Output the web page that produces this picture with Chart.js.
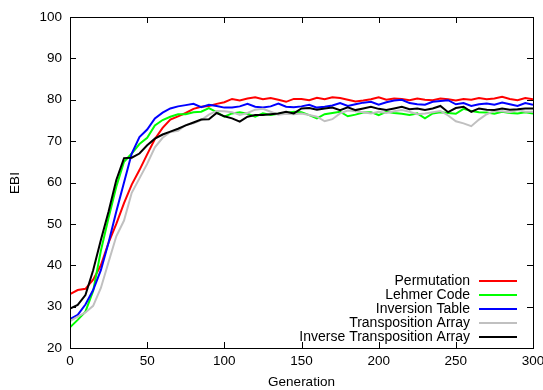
<!DOCTYPE html>
<html>
<head>
<meta charset="utf-8">
<script src="https://cdn.jsdelivr.net/npm/chart.js@4/dist/chart.umd.min.js"></script>
<style>
  html, body { margin: 0; padding: 0; background: #fff; }
  canvas { display: block; }
</style>
</head>
<body>
<canvas id="ebiChart" width="543" height="390"></canvas>
<script>
// generations sampled every 5
const generations = [];
for (let g = 0; g <= 300; g += 5) generations.push(g);

const seriesNames = ['Permutation', 'Lehmer Code', 'Inversion Table', 'Transposition Array', 'Inverse Transposition Array'];
const seriesColors = ['#ff0000', '#00ff00', '#0000ff', '#c0c0c0', '#000000'];

const permutation = [
  33.0, 34.0, 34.3, 36.5, 40.0, 45.5, 50.0, 55.0, 59.5, 63.0,
  66.8, 70.5, 73.2, 75.2, 76.0, 76.8, 77.8, 78.3, 78.5, 79.0,
  79.4, 80.2, 79.8, 80.3, 80.6, 80.1, 80.4, 80.0, 79.5, 80.2,
  80.2, 79.9, 80.5, 80.1, 80.6, 80.4, 80.0, 79.6, 79.8, 80.1,
  80.6, 80.0, 80.3, 80.2, 79.9, 80.3, 80.0, 79.9, 80.3, 80.1,
  79.8, 80.2, 80.0, 80.4, 80.1, 80.3, 80.7, 80.2, 79.9, 80.4, 80.1
];
const lehmerCode = [
  25.0, 26.8, 28.8, 33.8, 43.5, 51.5, 59.0, 65.0, 67.0, 69.3,
  70.8, 73.8, 75.1, 75.9, 76.5, 76.5, 77.0, 77.1, 78.0, 77.0,
  75.9, 76.7, 77.0, 76.6, 75.9, 76.7, 76.3, 76.6, 76.8, 77.1,
  77.0, 76.3, 75.5, 76.5, 76.8, 77.1, 76.0, 76.4, 76.9, 77.0,
  76.3, 77.1, 76.8, 76.6, 76.3, 76.7, 75.5, 76.7, 77.0, 76.8,
  76.6, 77.8, 77.3, 77.0, 76.9, 76.6, 77.1, 76.8, 76.7, 77.0, 76.7
];
const inversionTable = [
  27.0, 28.0, 30.5, 34.0, 38.8, 45.5, 53.0, 60.0, 67.0, 71.0,
  72.8, 75.5, 76.9, 77.9, 78.4, 78.7, 79.0, 78.2, 78.8, 78.5,
  78.1, 78.1, 78.4, 79.0, 78.3, 78.1, 78.4, 79.1, 78.3, 78.2,
  78.4, 78.8, 78.1, 78.3, 78.6, 79.2, 78.5, 78.9, 79.3, 79.5,
  78.8, 79.4, 79.8, 80.0, 79.2, 78.9, 78.8, 79.5, 79.7, 79.9,
  78.9, 79.2, 78.5, 78.9, 79.1, 78.8, 79.3, 78.9, 78.5, 79.2, 78.8
];
const transpositionArray = [
  26.5, 27.6, 28.6, 30.2, 34.5, 40.8, 47.0, 50.8, 57.5, 61.0,
  64.5, 68.5, 70.8, 72.2, 72.5, 73.9, 74.3, 75.1, 76.4, 77.3,
  77.2, 77.0, 76.3, 76.8, 77.6, 77.8, 77.1, 76.4, 76.6, 76.5,
  76.7, 76.3, 75.9, 74.8, 75.3, 76.7, 77.4, 77.2, 77.0, 76.7,
  77.1, 76.8, 77.2, 77.5, 77.1, 76.5, 76.7, 77.0, 77.3, 76.2,
  74.8, 74.3, 73.6, 75.2, 76.5, 77.3, 77.2, 77.0, 77.5, 77.1, 77.1
];
const inverseTranspositionArray = [
  29.5, 30.4, 32.8, 38.8, 46.1, 53.0, 60.6, 65.9, 66.0, 67.0,
  69.0, 70.6, 71.6, 72.3, 73.0, 73.8, 74.5, 75.2, 75.3, 76.8,
  76.0, 75.5, 74.7, 75.9, 76.3, 76.3, 76.5, 76.7, 77.1, 76.7,
  77.9, 78.0, 77.6, 77.9, 78.1, 77.5, 78.2, 77.5, 77.9, 78.3,
  77.8, 77.5, 77.9, 78.3, 77.7, 77.9, 77.5, 77.9, 78.5, 77.0,
  78.0, 78.3, 77.1, 77.9, 77.6, 77.5, 77.9, 77.6, 77.7, 77.9, 77.9
];

const xTicks = [0, 50, 100, 150, 200, 250, 300];
const yTicks = [20, 30, 40, 50, 60, 70, 80, 90, 100];

const allSeries = [permutation, lehmerCode, inversionTable, transpositionArray, inverseTranspositionArray];
const FONT = '"Liberation Sans", Arial, sans-serif';

const datasets = allSeries.map((vals, i) => ({
  label: seriesNames[i],
  data: vals.map((v, j) => ({ x: generations[j], y: v })),
  borderColor: seriesColors[i],
  backgroundColor: seriesColors[i],
  borderWidth: 2,
  pointRadius: 0,
  tension: 0,
  fill: false,
  order: allSeries.length - i
}));

// gnuplot style frame, inward ticks on all sides, axis titles and legend
const framePlugin = {
  id: 'frame',
  afterDraw(chart) {
    const { ctx, chartArea: a, scales } = chart;
    ctx.save();
    ctx.strokeStyle = '#000';
    ctx.lineWidth = 1;
    ctx.strokeRect(Math.round(a.left) + 0.5, Math.round(a.top) + 0.5,
      Math.round(a.right - a.left), Math.round(a.bottom - a.top));
    ctx.beginPath();
    xTicks.forEach(t => {
      const x = Math.round(scales.x.getPixelForValue(t)) + 0.5;
      ctx.moveTo(x, a.bottom); ctx.lineTo(x, a.bottom - 6);
      ctx.moveTo(x, a.top); ctx.lineTo(x, a.top + 6);
    });
    yTicks.forEach(t => {
      const y = Math.round(scales.y.getPixelForValue(t)) + 0.5;
      ctx.moveTo(a.left, y); ctx.lineTo(a.left + 6, y);
      ctx.moveTo(a.right, y); ctx.lineTo(a.right - 6, y);
    });
    ctx.stroke();

    ctx.fillStyle = '#000';
    ctx.font = '13.5px ' + FONT;
    ctx.textAlign = 'center';
    ctx.textBaseline = 'middle';
    ctx.fillText('Generation', (a.left + a.right) / 2, 382);
    ctx.save();
    ctx.translate(15, 183);
    ctx.rotate(-Math.PI / 2);
    ctx.fillText('EBI', 0, 0);
    ctx.restore();

    // key, bottom right
    ctx.font = '14px ' + FONT;
    ctx.textAlign = 'right';
    seriesNames.forEach((name, i) => {
      const y = 281 + i * 14;
      ctx.fillStyle = '#000';
      ctx.fillText(name, 470, y);
      ctx.strokeStyle = seriesColors[i];
      ctx.lineWidth = 2;
      ctx.beginPath();
      ctx.moveTo(479, y);
      ctx.lineTo(517, y);
      ctx.stroke();
    });
    ctx.restore();
  }
};

new Chart(document.getElementById('ebiChart'), {
  type: 'line',
  data: { datasets: datasets },
  options: {
    responsive: false,
    animation: false,
    events: [],
    layout: { padding: { top: 17, right: 10, left: 0, bottom: 0 } },
    plugins: { legend: { display: false }, tooltip: { enabled: false } },
    scales: {
      x: {
        type: 'linear',
        min: 0,
        max: 300,
        afterFit(scale) { scale.height = 42; scale.paddingLeft = 0; scale.paddingRight = 0; },
        afterBuildTicks(scale) { scale.ticks = xTicks.map(v => ({ value: v })); },
        grid: { display: false, drawTicks: false },
        border: { display: false },
        ticks: { color: '#000', font: { family: FONT, size: 13.5 }, padding: 5, maxRotation: 0 }
      },
      y: {
        min: 20,
        max: 100,
        afterFit(scale) { scale.width = 70; scale.paddingTop = 0; scale.paddingBottom = 0; },
        afterBuildTicks(scale) { scale.ticks = yTicks.map(v => ({ value: v })); },
        grid: { display: false, drawTicks: false },
        border: { display: false },
        ticks: { color: '#000', font: { family: FONT, size: 13.5 }, padding: 8 }
      }
    }
  },
  plugins: [framePlugin]
});
</script>
</body>
</html>
